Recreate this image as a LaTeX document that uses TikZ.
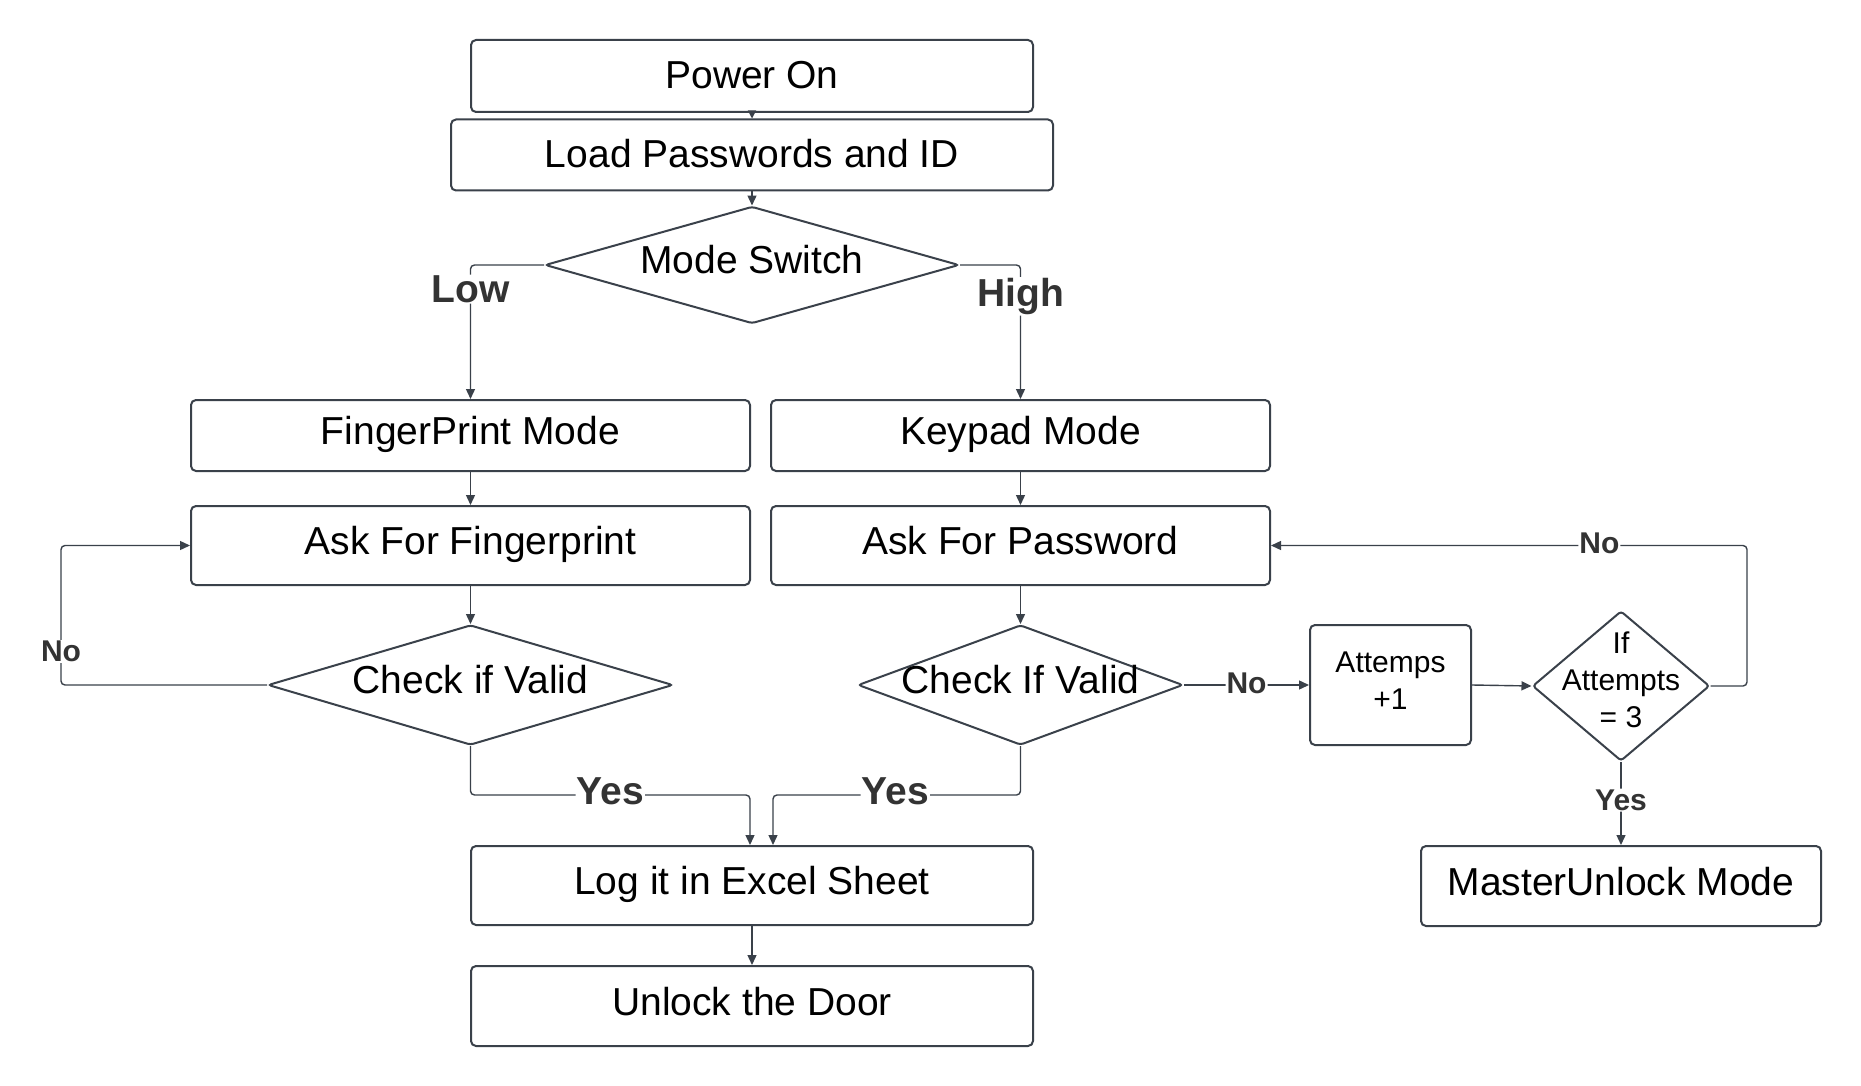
\documentclass[tikz,border=0pt]{standalone}
\usepackage{fontspec}
\setmainfont{Liberation Sans}
\usetikzlibrary{shapes.geometric,arrows.meta,calc}
\definecolor{edge}{HTML}{3A414A}
\definecolor{lbl}{HTML}{333333}
\newcommand\fmain{\fontsize{39}{46}\selectfont}
\newcommand\fsmall{\fontsize{30}{37}\selectfont}
\newcommand\fbig{\fontsize{39}{46}\selectfont\bfseries}
\newcommand\fno{\fontsize{30}{36}\selectfont\bfseries}
\begin{document}
\begin{tikzpicture}[x=1pt,y=-1pt,
  box/.style={draw=edge,line width=2pt,rounded corners=5pt,inner sep=0pt,font=\fmain,text height=28pt,text depth=10pt},
  dia/.style={draw=edge,line width=2pt,diamond,inner sep=0pt,rounded corners=3pt},
  dtext/.style={font=\fmain,yshift=5pt},
  conn/.style={draw=edge,line width=1.4pt,rounded corners=4pt,-{Triangle[length=10pt,width=9pt]}},
  biglbl/.style={fill=white,text=lbl,font=\fbig,inner sep=1pt,yshift=4pt},
  nolbl/.style={fill=white,text=lbl,font=\fno,inner sep=1pt,yshift=2pt}]
\useasboundingbox[fill=white] (0,0) rectangle (1861,1086);

\node[box,text depth=3pt,minimum width=562pt,minimum height=72pt] (po) at (752,76) {Power On};
\node[box,text depth=3pt,minimum width=602pt,minimum height=71pt] (ld) at (752,155) {Load Passwords and ID};
\node[dia,minimum width=414pt,minimum height=117pt,label={[dtext]center:Mode Switch}] (ms) at (752,265) {};
\node[box,minimum width=559pt,minimum height=71pt] (fp) at (470.5,435.5) {FingerPrint Mode};
\node[box,minimum width=499pt,minimum height=71pt] (kp) at (1020.5,435.5) {Keypad Mode};
\node[box,minimum width=559pt,minimum height=79pt] (af) at (470.5,545.5) {Ask For Fingerprint};
\node[box,minimum width=499pt,minimum height=79pt] (ap) at (1020.5,545.5) {Ask For Password};
\node[dia,minimum width=405pt,minimum height=120pt,label={[dtext]center:Check if Valid}] (cl) at (470.5,685) {};
\node[dia,minimum width=325pt,minimum height=120pt,label={[dtext]center:Check If Valid}] (cr) at (1020.5,685) {};
\node[draw=edge,line width=2pt,rounded corners=5pt,minimum width=161pt,minimum height=120pt,
  label={[font=\fsmall,align=center,yshift=4pt]center:Attemps\\+1}] (at) at (1390.5,685) {};
\node[dia,minimum width=177pt,minimum height=150pt,label={[font=\fsmall,align=center,yshift=6pt]center:If\\Attempts\\= 3}] (ifd) at (1621,686) {};
\node[box,minimum width=400pt,minimum height=80pt] (mu) at (1621,886) {MasterUnlock Mode};
\node[box,minimum width=562pt,minimum height=79pt] (lg) at (752,885.5) {Log it in Excel Sheet};
\node[box,minimum width=562pt,minimum height=80pt] (ud) at (752,1006) {Unlock the Door};

\coordinate (yy) at (0,795);
\coordinate (rx) at (1747,0);

\draw[conn,-{Triangle[length=8pt,width=8pt]}] (po) -- (ld);
\draw[conn] (ld) -- (ms);
\draw[conn] (ms.west) -| node[biglbl,pos=0.59,yshift=-4pt]{Low} (fp.north);
\draw[conn] (ms.east) -| node[biglbl,pos=0.61,yshift=-6pt]{High} (kp.north);
\draw[conn] (fp) -- (af);
\draw[conn] (kp) -- (ap);
\draw[conn] (af) -- (cl);
\draw[conn] (ap) -- (cr);
\draw[conn] (cl.west) -| node[nolbl,pos=0.62,yshift=-2pt]{No} ([xshift=-129pt]af.west) -- (af.west);
\draw[conn] (cl.south) -- (cl.south |- yy) -| node[biglbl,pos=0.25]{Yes} ([xshift=-2pt]lg.north);
\draw[conn] (cr.south) -- (cr.south |- yy) -| node[biglbl,pos=0.253]{Yes} ([xshift=21pt]lg.north);
\draw[conn] (cr.east) -- node[nolbl]{No} (at.west);
\draw[conn] (at.east) -- (ifd.west);
\draw[conn] (ifd.east) -| (rx |- ap.east) -- node[nolbl,pos=0.31]{No} (ap.east);
\draw[conn] (ifd.south) -- node[nolbl,pos=0.46,yshift=-2pt]{Yes} (mu.north);
\draw[conn] (lg) -- (ud);
\end{tikzpicture}
\end{document}
